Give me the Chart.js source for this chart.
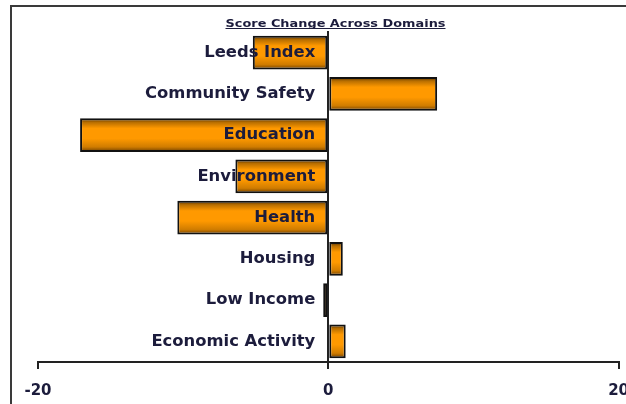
<!DOCTYPE html>
<html>
<head>
<meta charset="utf-8">
<script src="https://cdn.jsdelivr.net/npm/chart.js@4"></script>
<style>
  html, body { margin: 0; padding: 0; background: #fff; overflow: hidden; }
  #wrap { width: 642px; height: 419px; }
</style>
</head>
<body>
<div id="wrap"><canvas id="scoreChart"></canvas></div>
<script>
const domains = ['Leeds Index', 'Community Safety', 'Education', 'Environment',
  'Health', 'Housing', 'Low Income', 'Economic Activity'];
const scoreChange = [-5.2, 7.5, -17.1, -6.4, -10.4, 1.0, -0.35, 1.2];
const xTicks = [-20, 0, 20];
const chartTitle = 'Score Change Across Domains';

const ink = '#1c1c3c';

// frame + underlined title
const framePlugin = {
  id: 'frame',
  beforeDraw(chart) {
    const c = chart.ctx;
    c.save();
    c.strokeStyle = '#3a3a3a';
    c.lineWidth = 2;
    c.strokeRect(11, 6, chart.width + 20, chart.height + 20);

    c.font = 'bold 11px "DejaVu Sans"';
    c.fillStyle = ink;
    c.textAlign = 'center';
    c.textBaseline = 'alphabetic';
    const w = c.measureText(chartTitle).width;
    const target = 220;
    const cx = 335.5;
    c.translate(cx, 26.5);
    c.scale(target / w, 0.9);
    c.fillText(chartTitle, 0, 0);
    c.restore();
    c.save();
    c.strokeStyle = ink;
    c.lineWidth = 1;
    c.beginPath();
    c.moveTo(cx - target / 2, 28.5);
    c.lineTo(cx + target / 2, 28.5);
    c.stroke();
    c.restore();
  },
  // domain names sit on top of the bars, right-aligned against the zero line
  afterDatasetsDraw(chart) {
    const c = chart.ctx;
    const x0 = chart.scales.x.getPixelForValue(0);
    const y = chart.scales.y;
    c.save();
    c.font = 'bold 16.4px "DejaVu Sans"';
    c.fillStyle = ink;
    c.textAlign = 'right';
    c.textBaseline = 'middle';
    domains.forEach((name, i) => {
      c.fillText(name, x0 - 13, y.getPixelForValue(i));
    });
    c.restore();
  }
};

const barFill = (ctx) => {
  const chart = ctx.chart;
  if (!chart.chartArea || ctx.type !== 'data') return '#ff9900';
  const y = chart.scales.y;
  const step = Math.abs(y.getPixelForValue(1) - y.getPixelForValue(0));
  const half = step * 0.82 / 2;
  const mid = y.getPixelForValue(ctx.dataIndex);
  const g = chart.ctx.createLinearGradient(0, mid - half, 0, mid + half);
  g.addColorStop(0, '#4a2a00');
  g.addColorStop(0.12, '#b86e00');
  g.addColorStop(0.3, '#ff9900');
  g.addColorStop(0.6, '#ff9900');
  g.addColorStop(0.85, '#d07c00');
  g.addColorStop(1, '#6a3c00');
  return g;
};

new Chart(document.getElementById('scoreChart'), {
  type: 'bar',
  data: {
    labels: domains,
    datasets: [{
      data: scoreChange,
      backgroundColor: barFill,
      borderColor: '#111',
      borderWidth: 2,
      borderSkipped: false,
      categoryPercentage: 1,
      barPercentage: 0.82
    }]
  },
  options: {
    indexAxis: 'y',
    responsive: true,
    maintainAspectRatio: false,
    animation: false,
    layout: { padding: { top: 32, left: 38, right: 21, bottom: 6 } },
    plugins: {
      legend: { display: false },
      title: { display: false },
      tooltip: { enabled: false }
    },
    scales: {
      x: {
        min: -20,
        max: 20,
        afterBuildTicks: (axis) => { axis.ticks = xTicks.map(v => ({ value: v })); },
        grid: { drawOnChartArea: false, drawTicks: true, tickLength: 7, color: '#222', lineWidth: 2 },
        border: { display: true, color: '#222', width: 2 },
        ticks: {
          color: ink,
          padding: 13,
          font: { family: 'DejaVu Sans', weight: 'bold', size: 15 }
        }
      },
      y: {
        position: { x: 0 },
        grid: { display: false, drawTicks: false },
        border: { display: true, color: '#222', width: 2 },
        ticks: { display: false }
      }
    }
  },
  plugins: [framePlugin]
});
</script>
</body>
</html>
